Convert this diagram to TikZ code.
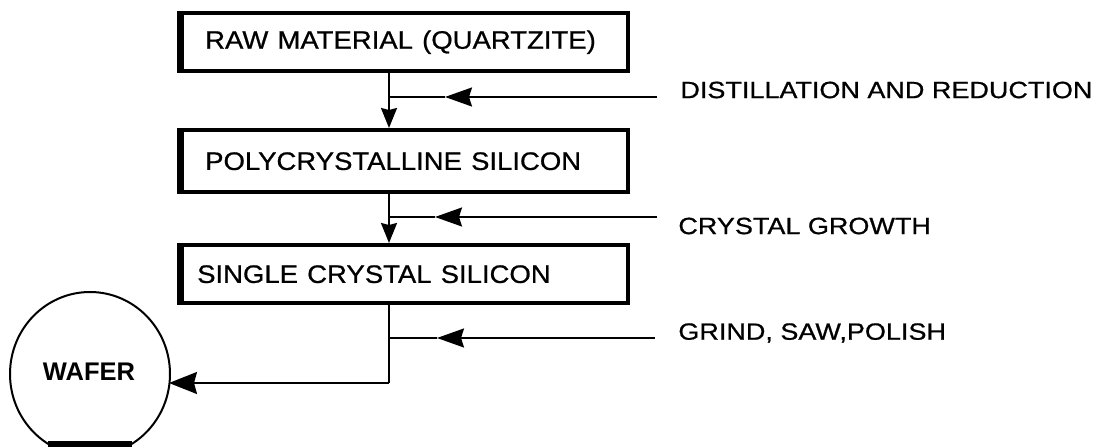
\documentclass[tikz,border=0pt]{standalone}
\usepackage{graphicx}
\usepackage{fontspec}
\setmainfont{Liberation Sans}
\newfontfamily\medfont[FakeBold=0.7]{Liberation Sans}
\usetikzlibrary{arrows.meta,shapes.geometric}
\begin{document}
\begin{tikzpicture}[x=0.5pt,y=-0.5pt,
  procbox/.style={draw, line width=2.2pt, anchor=north west, align=left, inner ysep=0pt,
    font=\medfont\fontsize{13.75}{16}\selectfont},
  lbl/.style={anchor=west, inner sep=0pt, font=\medfont\fontsize{13.5}{16}\selectfont},
  conn/.style={line width=1pt},
  downtip/.style={-{Stealth[length=10pt,width=8pt,inset=1pt]}},
  lefttip/.style={-{Stealth[length=13.5pt,width=9.5pt,inset=1.5pt]}},
  wafertip/.style={-{Stealth[length=14pt,width=11pt,inset=1.5pt]}},
]
\useasboundingbox (0,0) rectangle (1102,448);

% process boxes
\node[procbox, inner xsep=11.5pt, text width=200pt, minimum height=29pt] (b1) at (180,11)
  {\scalebox{1}[0.92]{RAW MATERIAL (QUARTZITE)}};
\node[procbox, inner xsep=11.5pt, text width=200pt, minimum height=31pt] (b2) at (180,128)
  {\scalebox{1}[0.92]{POLYCRYSTALLINE SILICON}};
\node[procbox, inner xsep=7.5pt, text width=208pt, minimum height=29pt] (b3) at (180,243)
  {\scalebox{1}[0.92]{SINGLE CRYSTAL SILICON}};
\foreach \b in {b1,b2,b3}
  \draw[line width=3pt] (\b.north west) -- (\b.south west);

% step labels
\node[lbl] (l1) at (680,90) {\scalebox{1}[0.87]{DISTILLATION AND REDUCTION}};
\node[lbl] (l2) at (678,226) {\scalebox{1}[0.87]{CRYSTAL GROWTH}};
\node[lbl] (l3) at (678,333) {\scalebox{1}[0.87]{GRIND, SAW,POLISH}};

% wafer
\begin{scope}
  \clip (0,0) rectangle (1102,444);
  \node[ellipse, draw, line width=1pt, minimum width=80pt, minimum height=82pt, inner sep=0pt] (wafer) at (90,374) {};
\end{scope}
\node[font=\bfseries\fontsize{12.75}{15}\selectfont, inner sep=0pt] (wtext) at (89,372) {WAFER};
\draw[line width=3pt] (48,444) -- (132,444);

% junctions
\coordinate (j1) at (389,97);
\coordinate (j2) at (389,217);
\coordinate (j3) at (389,338);
\coordinate (e1) at (657,97);
\coordinate (e2) at (657,217);
\coordinate (e3) at (655,338);
\coordinate (a1) at (445,97);
\coordinate (a2) at (435,217);
\coordinate (a3) at (437,338);
\coordinate (c4) at (389,383);

% main flow
\draw[conn,downtip] (b1.south -| j1) -- (b2.north -| j1);
\draw[conn,downtip] (b2.south -| j2) -- (b3.north -| j2);
\draw[conn] (b3.south -| j3) -- (c4);
\draw[conn,wafertip] (c4) -- (169,383);

% side inputs
\draw[conn,lefttip] (e1) -- (a1);
\draw[conn] (a1) -- (j1);
\draw[conn,lefttip] (e2) -- (a2);
\draw[conn] (a2) -- (j2);
\draw[conn,lefttip] (e3) -- (a3);
\draw[conn] (a3) -- (j3);
\end{tikzpicture}
\end{document}
